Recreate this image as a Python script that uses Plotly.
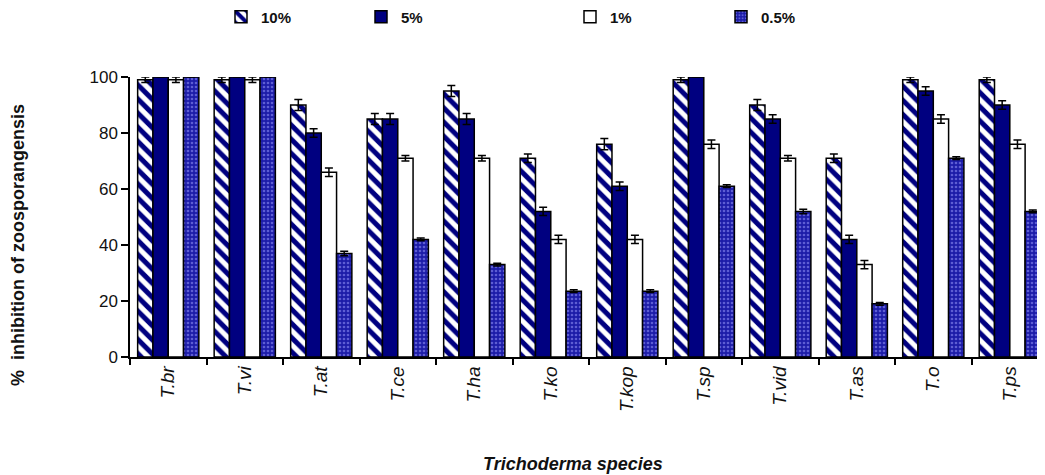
import plotly.graph_objects as go

species = ["T.br", "T.vi", "T.at", "T.ce", "T.ha", "T.ko", "T.kop", "T.sp", "T.vid", "T.as", "T.o", "T.ps"]
conc_10 = [99, 99, 90, 85, 95, 71, 76, 99, 90, 71, 99, 99]
conc_5 = [100, 100, 80, 85, 85, 52, 61, 100, 85, 42, 95, 90]
conc_1 = [99, 99, 66, 71, 71, 42, 42, 76, 71, 33, 85, 76]
conc_05 = [100, 100, 37, 42, 33, 23.5, 23.5, 61, 52, 19, 71, 52]
err_10 = [1, 1, 2, 2, 2, 1.5, 2, 1, 2, 1.5, 1, 1]
err_5 = [0, 0, 1.5, 2, 2, 1.5, 1.5, 0, 1.5, 1.5, 1.5, 1.5]
err_1 = [1, 1, 1.5, 1, 1, 1.5, 1.5, 1.5, 1, 1.5, 1.5, 1.5]
err_05 = [0, 0, 0.8, 0.5, 0.5, 0.5, 0.5, 0.5, 0.8, 0.5, 0.5, 0.5]
series_names = ["10%", "5%", "1%", "0.5%"]

NAVY = "#000080"
TXT = "#111111"
FONT = "Liberation Sans, Arial"
labels = [f"<i>{s}</i>" for s in species]

def eb(vals):
    return dict(type="data", array=vals, visible=True, color="black", thickness=1.5, width=4)

fig = go.Figure()
fig.add_trace(go.Bar(
    x=labels, y=conc_10, name=series_names[0], error_y=eb(err_10),
    marker=dict(color="white", line=dict(color="black", width=1.5),
                pattern=dict(shape="\\", fgcolor=NAVY, bgcolor="white", fgopacity=1,
                             size=10, solidity=0.5)),
    legend="legend"))
fig.add_trace(go.Bar(
    x=labels, y=conc_5, name=series_names[1], error_y=eb(err_5),
    marker=dict(color=NAVY, line=dict(color="black", width=1.5)),
    legend="legend2"))
fig.add_trace(go.Bar(
    x=labels, y=conc_1, name=series_names[2], error_y=eb(err_1),
    marker=dict(color="white", line=dict(color="black", width=1.5)),
    legend="legend3"))
fig.add_trace(go.Bar(
    x=labels, y=conc_05, name=series_names[3], error_y=eb(err_05),
    marker=dict(color="#2020b0", line=dict(color="black", width=1.5),
                pattern=dict(shape=".", fgcolor="#a0a0ff", bgcolor="#1c1ca8", size=4, solidity=0.35)),
    legend="legend4"))

# page has an 8px body margin: figure is placed at (8, 8)
OFF = 8
W, H = 1045 - OFF, 475 - OFF
L, R, T, B = 122, 0, 69, 118
pw = W - L - R
ph = H - T - B

def px_x(x):  # page pixel -> paper
    return (x - OFF - L) / pw

def px_y(y):  # page pixel -> paper
    return (H - B - (y - OFF)) / ph

legfont = dict(family=FONT, size=15, color=TXT, weight="bold")
leg_common = dict(orientation="h", font=legfont, bgcolor="rgba(0,0,0,0)",
                  yanchor="middle", xanchor="left", itemwidth=30, tracegroupgap=0)
legend_px = [221, 361, 570, 721]
layout_legends = {}
for i, xp in enumerate(legend_px):
    key = "legend" if i == 0 else f"legend{i+1}"
    layout_legends[key] = dict(leg_common, x=px_x(xp), y=px_y(17))

fig.update_layout(
    width=W, height=H,
    margin=dict(l=L, r=R, t=T, b=B, autoexpand=False),
    paper_bgcolor="white", plot_bgcolor="white",
    barmode="group", bargap=0.2, bargroupgap=0,
    font=dict(family=FONT, size=16, color=TXT),
    showlegend=True,
    **layout_legends,
    xaxis=dict(
        type="category", range=[-0.5, 11.46],
        showline=True, linecolor="black", linewidth=1.5,
        ticks="outside", tickson="boundaries", ticklen=6, tickcolor="black", tickwidth=1.5,
        tickangle=-90, tickfont=dict(size=19, color=TXT),
        showgrid=False, zeroline=False, automargin=False,
    ),
    yaxis=dict(
        range=[0, 100], tickvals=[0, 20, 40, 60, 80, 100],
        showline=True, linecolor="black", linewidth=1.5,
        ticks="outside", ticklen=7, tickcolor="black", tickwidth=1.5,
        tickfont=dict(size=17, color=TXT),
        showgrid=False, zeroline=False, automargin=False,
    ),
    annotations=[
        dict(text="<b>%  inhibition of zoosporangensis</b>", textangle=-90,
             xref="paper", yref="paper", x=px_x(18), y=px_y(245),
             xanchor="center", yanchor="middle", showarrow=False,
             font=dict(size=18, color=TXT)),
        dict(text="<b><i>Trichoderma species</i></b>",
             xref="paper", yref="paper", x=px_x(573), y=px_y(464),
             xanchor="center", yanchor="middle", showarrow=False,
             font=dict(size=18, color=TXT)),
    ],
)

fig.write_html("out.html")
